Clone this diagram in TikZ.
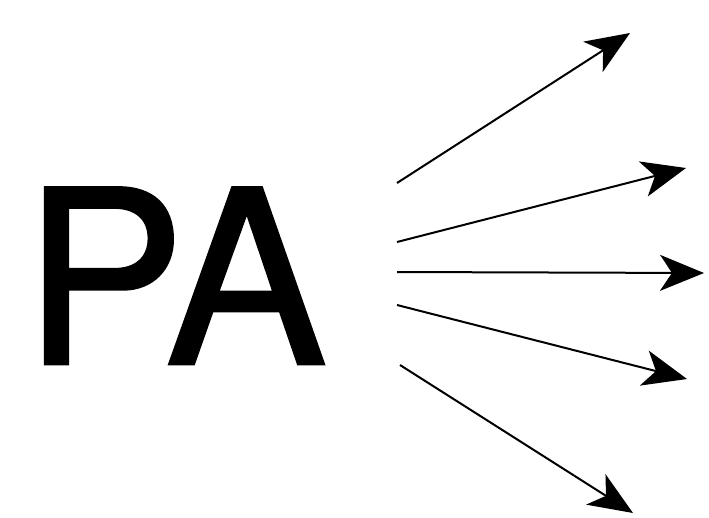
\documentclass[tikz,border=0pt]{standalone}
\usepackage{fontspec}
\setmainfont{TeX Gyre Heros}
\newfontfamily\pafont[FakeBold=1.2]{TeX Gyre Heros}
\usetikzlibrary{arrows.meta}
\tikzset{
  ray/.style={line width=2pt, -{Stealth[length=44pt, width=36pt, inset=12pt]}},
}
\begin{document}
\begin{tikzpicture}[x=1pt, y=-1pt]
\useasboundingbox (0,0) rectangle (709,517);
\node[anchor=base west, inner sep=0pt, font=\pafont\fontsize{242}{242}\selectfont] (pa) at (23,364) {PA};
\coordinate (s1) at (397,183);
\coordinate (s2) at (397,242);
\coordinate (s3) at (397,272);
\coordinate (s4) at (397,305);
\coordinate (s5) at (400,365);
\coordinate (e1) at (630,33);
\coordinate (e2) at (686,168);
\coordinate (e3) at (704,273);
\coordinate (e4) at (687,379);
\coordinate (e5) at (633,513);
\draw[ray] (s1) -- (e1);
\draw[ray] (s2) -- (e2);
\draw[ray] (s3) -- (e3);
\draw[ray] (s4) -- (e4);
\draw[ray] (s5) -- (e5);
\end{tikzpicture}
\end{document}
